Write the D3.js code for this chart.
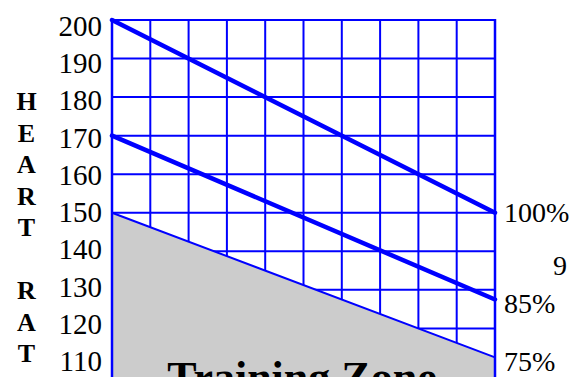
<!DOCTYPE html>
<html>
<head>
<meta charset="utf-8">
<script src="https://cdn.jsdelivr.net/npm/d3@7"></script>
<style>
  body { margin: 0; background: #fff; }
  svg { display: block; }
  text { font-family: "Liberation Serif", "Times New Roman", serif; }
</style>
</head>
<body>
<svg id="chart" width="577" height="377"></svg>
<script>
// ages along the bottom (axis is cut off in the picture)
var ages = [20, 25, 30, 35, 40, 45, 50, 55, 60, 65, 70]
var hrTicks = [200, 190, 180, 170, 160, 150, 140, 130, 120, 110, 100]
var hrLabels = ["200", "190", "180", "170", "160", "150", "140", "130", "120", "110"]
// % of max heart rate, value at age 20 and at age 70
var zoneNames = ["100%", "85%", "75%"]
var zoneStart = [200, 170, 150]
var zoneEnd = [150, 127.5, 112.5]
var sideWord = ["H", "E", "A", "R", "T", "", "R", "A", "T", "E"]

var svg = d3.select("svg#chart")
var blue = "#0000ff"

var x = d3.scaleLinear()
    .domain([20, 70])
    .range([112, 495])
var y = d3.scaleLinear()
    .domain([100, 200])
    .range([405.5, 20])

var zones = zoneNames.map((name, i) => ({
  name: name,
  values: [{age: ages[0], hr: zoneStart[i]}, {age: ages[ages.length - 1], hr: zoneEnd[i]}]
}))

var line = d3.line()
    .x(d => x(d.age))
    .y(d => y(d.hr))

// grid
var grid = svg.append("g")
    .attr("stroke", blue)
    .attr("stroke-width", 2)
grid.selectAll("line.h")
  .data(hrTicks)
  .enter()
  .append("line")
    .attr("class", "h")
    .attr("x1", x(20))
    .attr("x2", x(70))
    .attr("y1", d => y(d))
    .attr("y2", d => y(d))
grid.selectAll("line.v")
  .data(ages)
  .enter()
  .append("line")
    .attr("class", "v")
    .attr("x1", d => x(d))
    .attr("x2", d => x(d))
    .attr("y1", y(200))
    .attr("y2", y(100))

// grey area below the 75% line
var low = zones[2].values
var area = d3.area()
    .x(d => x(d.age))
    .y0(y(100))
    .y1(d => y(d.hr))
svg.append("path")
    .attr("fill", "#cccccc")
    .attr("d", area(low))

// side borders over the grey
svg.append("g")
    .attr("stroke", blue)
    .attr("stroke-width", 2.5)
  .selectAll("line")
  .data([ages[0], ages[ages.length - 1]])
  .enter()
  .append("line")
    .attr("x1", d => x(d))
    .attr("x2", d => x(d))
    .attr("y1", y(200) - 1)
    .attr("y2", y(100))

// zone lines
svg.append("g")
    .attr("fill", "none")
    .attr("stroke", blue)
  .selectAll("path")
  .data(zones)
  .enter()
  .append("path")
    .attr("stroke-width", (d, i) => i < 2 ? 4.5 : 2)
    .attr("stroke-linecap", "round")
    .attr("d", d => line(d.values))

// left labels
var labelY = d3.scalePoint()
    .domain(hrLabels)
    .range([26, 361])
svg.append("g")
    .attr("font-size", 29)
    .attr("text-anchor", "end")
  .selectAll("text")
  .data(hrLabels)
  .enter()
  .append("text")
    .attr("x", 102)
    .attr("y", d => labelY(d) + 10)
    .text(d => d)

// right labels
svg.append("g")
    .attr("font-size", 28)
  .selectAll("text")
  .data(zones)
  .enter()
  .append("text")
    .attr("x", 504)
    .attr("y", (d, i) => y(d.values[1].hr) + (i === 0 ? 9 : 14))
    .text(d => d.name)

svg.append("text")
    .attr("x", 553)
    .attr("y", 275)
    .attr("font-size", 28)
    .text("9")

// vertical HEART RATE
var sideY = d3.scalePoint()
    .domain(d3.range(sideWord.length))
    .range([110, 394])
svg.append("g")
    .attr("font-size", 26)
    .attr("font-weight", "bold")
    .attr("text-anchor", "middle")
  .selectAll("text")
  .data(sideWord)
  .enter()
  .append("text")
    .attr("x", 26.5)
    .attr("y", (d, i) => sideY(i))
    .text(d => d)

svg.append("text")
    .attr("x", 302)
    .attr("y", 392)
    .attr("font-size", 44)
    .attr("font-weight", "bold")
    .attr("text-anchor", "middle")
    .text("Training Zone")
</script>
</body>
</html>
